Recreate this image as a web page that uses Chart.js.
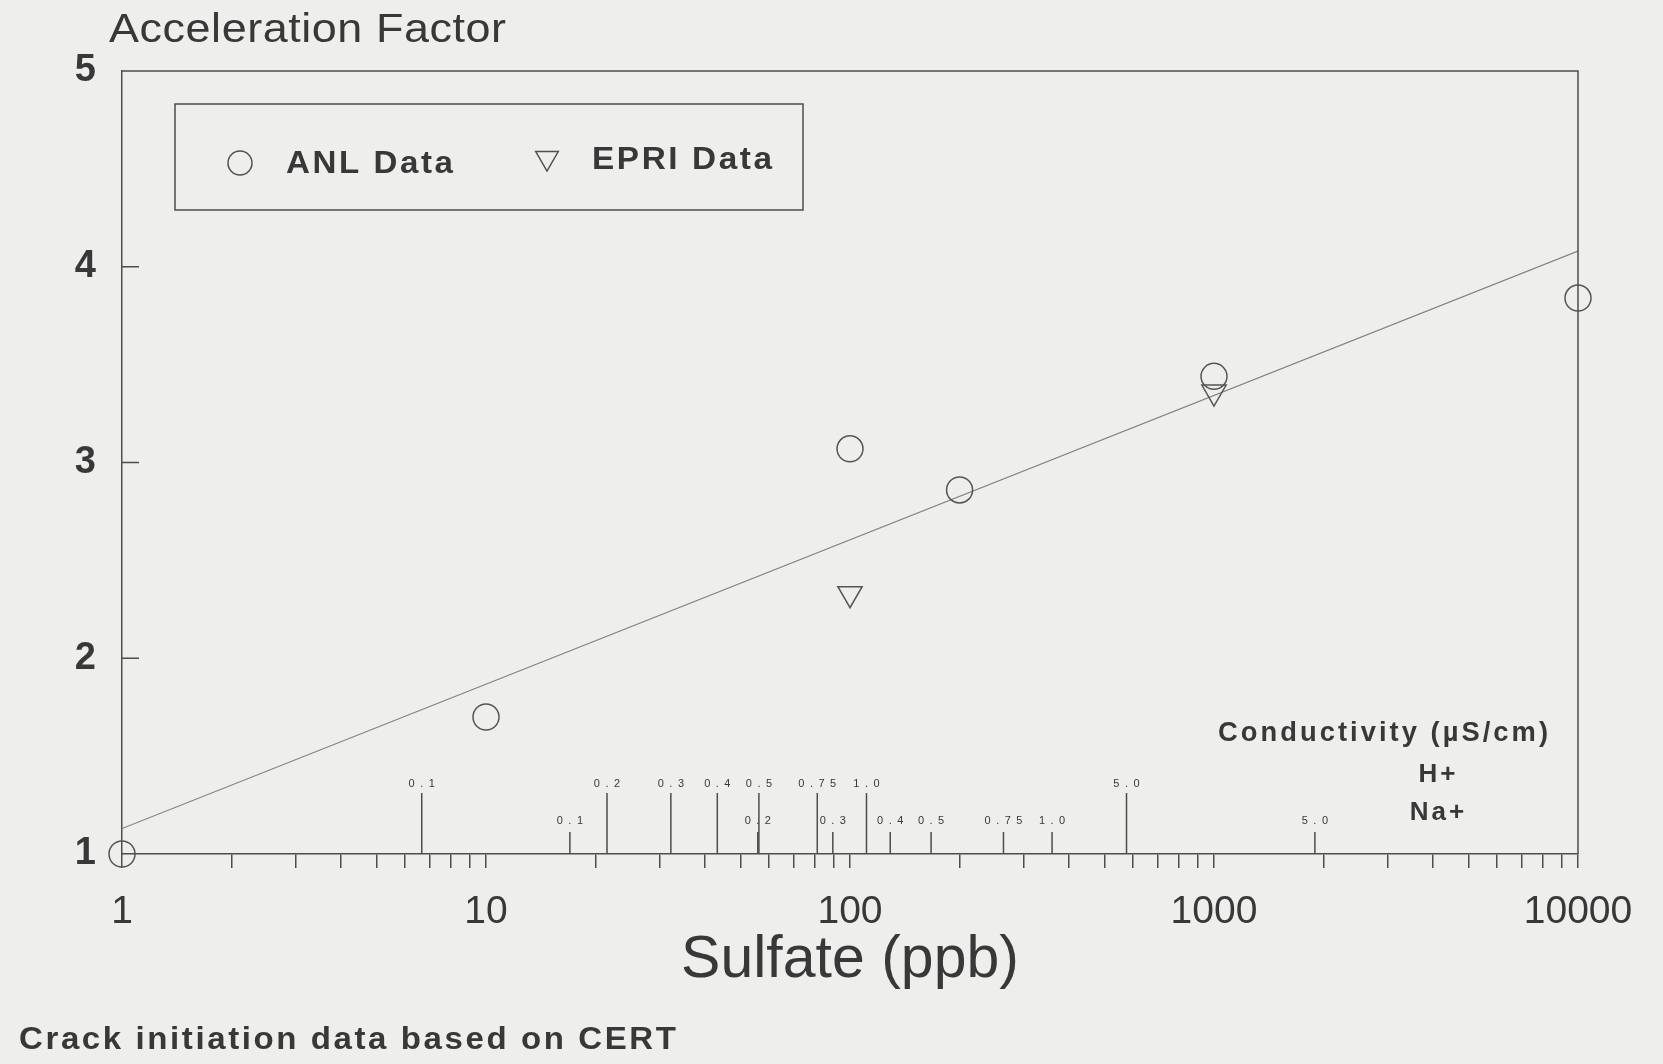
<!DOCTYPE html>
<html>
<head>
<meta charset="utf-8">
<title>Acceleration Factor vs Sulfate</title>
<script src="https://cdn.jsdelivr.net/npm/chart.js"></script>
<style>
  html, body { margin: 0; padding: 0; background: #eeeeec; }
  #wrap { width: 1663px; height: 1064px; position: relative; }
</style>
</head>
<body>
<div id="wrap"><canvas id="myChart"></canvas></div>
<script>
// ANL data (circles)
var anlSulfate = [1, 10, 100, 200, 1000, 10000];
var anlFactor = [1.0, 1.70, 3.07, 2.86, 3.44, 3.84];
// EPRI data (triangles)
var epriSulfate = [100, 1000];
var epriFactor = [2.33, 3.36];
// fitted line, end points
var fitSulfate = [1, 10000];
var fitFactor = [1.13, 4.08];

// conductivity (uS/cm) marks placed on the sulfate axis
var hPlusLabels = ['0.1', '0.2', '0.3', '0.4', '0.5', '0.75', '1.0', '5.0'];
var hPlusSulfate = [6.66, 21.5, 32.2, 43.2, 56.2, 81.3, 111, 575];
var naPlusLabels = ['0.1', '0.2', '0.3', '0.4', '0.5', '0.75', '1.0', '5.0'];
var naPlusSulfate = [17.0, 55.8, 89.7, 129, 167, 264, 359, 1893];

// axis ticks
var xLabelValues = [1, 10, 100, 1000, 10000];
var yTickValues = [1, 2, 3, 4, 5];

var INK = '#383838';
var LINE = '#4d4d4d';
var FONT = "'Liberation Sans', Arial, sans-serif";

function toPoints(xs, ys) {
    var pts = [];
    for (var i = 0; i < xs.length; i++) {
        pts.push({ x: xs[i], y: ys[i] });
    }
    return pts;
}

// minor ticks 1..9 in every decade of the label range
var xTickValues = [];
for (var d = 0; d < xLabelValues.length - 1; d++) {
    for (var m = 1; m < 10; m++) {
        xTickValues.push(m * xLabelValues[d]);
    }
}
xTickValues.push(xLabelValues[xLabelValues.length - 1]);

// text with letter spacing, optionally stretched to a width
function drawText(ctx, text, x, y, font, spacing, width, align) {
    ctx.save();
    ctx.font = font;
    ctx.letterSpacing = spacing + 'px';
    var w = ctx.measureText(text).width - spacing;
    var sx = width ? width / w : 1;
    ctx.translate(x, y);
    ctx.scale(sx, 1);
    ctx.textAlign = 'left';
    ctx.textBaseline = 'middle';
    ctx.fillStyle = INK;
    ctx.fillText(text, align === 'center' ? -w / 2 : 0, 0);
    ctx.restore();
}

function marker(ctx, style, rotation, radius, x, y) {
    ctx.save();
    ctx.strokeStyle = '#505050';
    ctx.fillStyle = 'rgba(0,0,0,0)';
    ctx.lineWidth = 1.5;
    if (Chart.helpers && Chart.helpers.drawPoint) {
        Chart.helpers.drawPoint(ctx, { pointStyle: style, rotation: rotation, radius: radius, borderWidth: 1.5 }, x, y);
    } else {
        ctx.beginPath();
        ctx.arc(x, y, radius, 0, Math.PI * 2);
        ctx.stroke();
    }
    ctx.restore();
}

var overlay = {
    id: 'overlay',
    afterDatasetsDraw: function (chart) {
        var ctx = chart.ctx;
        var a = chart.chartArea;
        var x = chart.scales.x;
        var y = chart.scales.y;
        ctx.save();
        ctx.strokeStyle = LINE;
        ctx.lineWidth = 1.5;

        // frame: top and right
        ctx.beginPath();
        ctx.moveTo(a.left, a.top);
        ctx.lineTo(a.right, a.top);
        ctx.lineTo(a.right, a.bottom);
        ctx.stroke();

        // inward ticks on the y axis
        ctx.beginPath();
        for (var i = 0; i < yTickValues.length; i++) {
            var v = yTickValues[i];
            if (v <= y.min || v >= y.max) continue;
            var py = y.getPixelForValue(v);
            ctx.moveTo(a.left, py);
            ctx.lineTo(a.left + 17, py);
        }
        ctx.stroke();

        // conductivity marks
        var base = y.getPixelForValue(y.min);
        function row(values, labels, len, labelUp) {
            ctx.beginPath();
            for (var j = 0; j < values.length; j++) {
                var px = x.getPixelForValue(values[j]);
                ctx.moveTo(px, base);
                ctx.lineTo(px, base - len);
            }
            ctx.stroke();
            for (var k = 0; k < values.length; k++) {
                drawText(ctx, labels[k], x.getPixelForValue(values[k]), base - labelUp, '11px ' + FONT, 5.5, null, 'center');
            }
        }
        row(hPlusSulfate, hPlusLabels, 61, 70);
        row(naPlusSulfate, naPlusLabels, 22, 33);

        drawText(ctx, 'Conductivity (\u00b5S/cm)', 1218, 734, 'bold 27px ' + FONT, 3, 330);
        drawText(ctx, 'H+', 1437, 775, 'bold 26px ' + FONT, 3, null, 'center');
        drawText(ctx, 'Na+', 1437, 813, 'bold 26px ' + FONT, 3, null, 'center');

        // legend
        var ds = chart.data.datasets;
        ctx.strokeStyle = LINE;
        ctx.lineWidth = 1.5;
        ctx.strokeRect(175, 104, 628, 106);
        marker(ctx, ds[0].pointStyle, 0, 12, 240, 163);
        drawText(ctx, ds[0].label, 286, 164, 'bold 32px ' + FONT, 2.5, 167);
        marker(ctx, ds[1].pointStyle, 180, 13, 547, 158);
        drawText(ctx, ds[1].label, 592, 160, 'bold 32px ' + FONT, 2.5, 180);

        // titles
        drawText(ctx, 'Acceleration Factor', 109, 31, '41px ' + FONT, 0.5, 397);
        drawText(ctx, 'Crack initiation data based on CERT', 19, 1040, 'bold 32px ' + FONT, 2.5, 657);
        ctx.restore();
    }
};

Chart.defaults.font.family = FONT;
Chart.defaults.color = INK;

new Chart('myChart', {
    type: 'scatter',
    data: {
        datasets: [{
            label: 'ANL Data',
            data: toPoints(anlSulfate, anlFactor),
            pointStyle: 'circle',
            pointRadius: 13,
            pointBorderWidth: 1.5,
            borderColor: '#555555',
            backgroundColor: 'rgba(0,0,0,0)',
            clip: false,
            order: 1
        }, {
            label: 'EPRI Data',
            data: toPoints(epriSulfate, epriFactor),
            pointStyle: 'triangle',
            pointRotation: 180,
            pointRadius: 14,
            pointBorderWidth: 1.5,
            borderColor: '#555555',
            backgroundColor: 'rgba(0,0,0,0)',
            clip: false,
            order: 2
        }, {
            label: 'Fit',
            data: toPoints(fitSulfate, fitFactor),
            showLine: true,
            pointRadius: 0,
            borderColor: '#808080',
            borderWidth: 1.2,
            order: 3
        }]
    },
    options: {
        responsive: true,
        maintainAspectRatio: false,
        animation: false,
        layout: { padding: { top: 71, right: 85, left: 0, bottom: 0 } },
        plugins: {
            legend: { display: false },
            tooltip: { enabled: false }
        },
        scales: {
            x: {
                type: 'logarithmic',
                position: 'bottom',
                min: 1,
                max: 10000,
                afterBuildTicks: function (scale) {
                    scale.ticks = xTickValues.map(function (v) { return { value: v }; });
                },
                afterFit: function (scale) { scale.height = 210; },
                ticks: {
                    autoSkip: false,
                    maxRotation: 0,
                    padding: 21,
                    color: INK,
                    font: { size: 39 },
                    callback: function (value) {
                        return xLabelValues.indexOf(value) >= 0 ? String(value) : '';
                    }
                },
                grid: {
                    drawOnChartArea: false,
                    drawTicks: true,
                    tickLength: 14,
                    color: LINE,
                    lineWidth: 1.5
                },
                border: { display: true, color: LINE, width: 1.5 },
                title: {
                    display: true,
                    text: 'Sulfate (ppb)',
                    color: INK,
                    font: { size: 59 },
                    padding: { top: 0, bottom: 68 }
                }
            },
            y: {
                type: 'linear',
                min: 1,
                max: 5,
                afterBuildTicks: function (scale) {
                    scale.ticks = yTickValues.map(function (v) { return { value: v }; });
                },
                afterFit: function (scale) { scale.width = 122; },
                ticks: {
                    padding: 26,
                    color: INK,
                    font: { size: 38, weight: 'bold' }
                },
                grid: { drawOnChartArea: false, drawTicks: false },
                border: { display: true, color: LINE, width: 1.5 }
            }
        }
    },
    plugins: [overlay]
});
</script>
</body>
</html>
